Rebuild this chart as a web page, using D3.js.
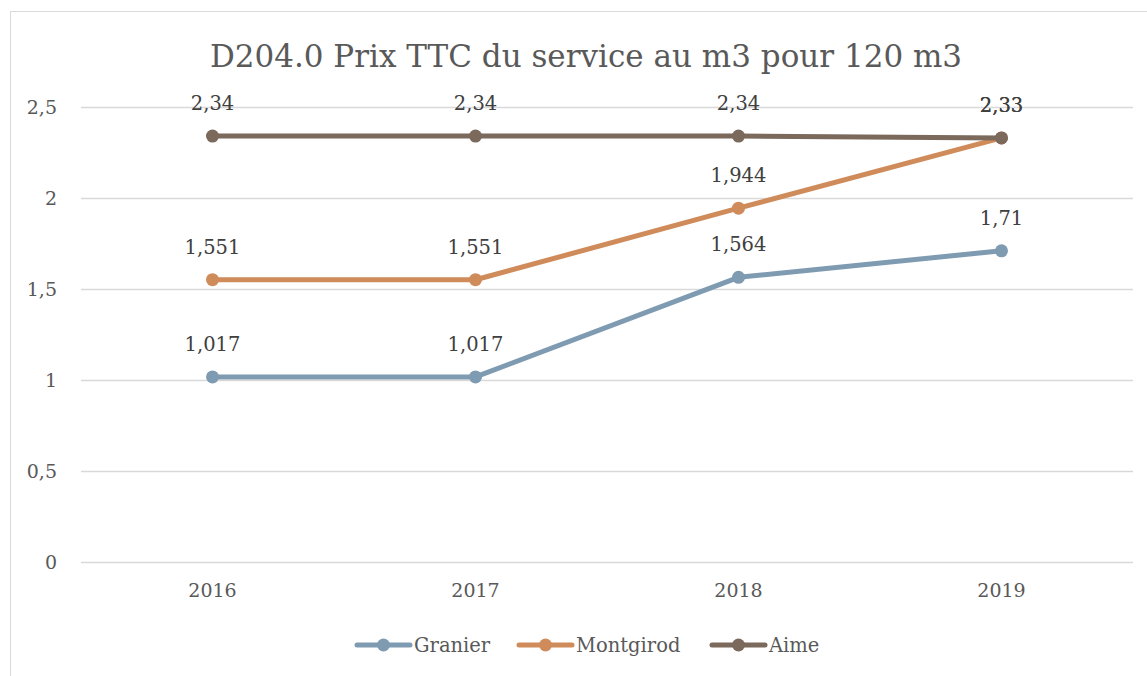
<!DOCTYPE html>
<html>
<head>
<meta charset="utf-8">
<script src="https://cdn.jsdelivr.net/npm/d3@7"></script>
<style>
  html, body { margin: 0; padding: 0; background: #fff; }
  svg { display: block; font-family: "DejaVu Serif", "Liberation Serif", serif; }
</style>
</head>
<body>
<svg id="chart" width="1147" height="676"></svg>
<script>
// D204.0 Prix TTC du service au m3 pour 120 m3
const years = ['2016', '2017', '2018', '2019'];
const granier = [1.017, 1.017, 1.564, 1.71];
const montgirod = [1.551, 1.551, 1.944, 2.33];
const aime = [2.34, 2.34, 2.34, 2.33];
const yTicks = [0, 0.5, 1, 1.5, 2, 2.5];

const series = [
    { name: 'Granier', values: granier, color: '#7f9bb2' },
    { name: 'Montgirod', values: montgirod, color: '#d08b5b' },
    { name: 'Aime', values: aime, color: '#7b695c' }
];

const SERIF = '"DejaVu Serif", "Liberation Serif", serif';
const svg = d3.select('#chart');
const MARGIN = { left: 81, right: 14, top: 107, bottom: 114 };
const W = 1147, H = 676;

const fmt = v => String(v).replace('.', ',');

// outer chart border
svg.append('rect')
    .attr('x', 10.5).attr('y', 11.5)
    .attr('width', 1140).attr('height', 680)
    .attr('fill', '#fff')
    .attr('stroke', '#d9d9d9');

const x = d3.scaleBand()
    .domain(years)
    .range([MARGIN.left, W - MARGIN.right]);

const y = d3.scaleLinear()
    .domain([0, 2.5])
    .range([H - MARGIN.bottom, MARGIN.top]);

const cx = d => x(d) + x.bandwidth() / 2;

// Grid
svg.append('g')
    .attr('transform', `translate(${MARGIN.left},0)`)
    .call(d3.axisLeft(y).tickValues(yTicks).tickSize(-(W - MARGIN.left - MARGIN.right)).tickFormat(''))
    .call(g => g.select('.domain').remove())
    .selectAll('line')
    .attr('stroke', '#d9d9d9')
    .attr('stroke-width', 1.3);

// Y axis labels
svg.append('g')
    .attr('transform', `translate(${MARGIN.left - 24},0)`)
    .call(d3.axisLeft(y).tickValues(yTicks).tickSize(0).tickPadding(0).tickFormat(fmt))
    .attr('font-family', SERIF)
    .attr('font-size', 19)
    .call(g => g.select('.domain').remove())
    .selectAll('text')
    .attr('fill', '#595959');

// X axis labels
svg.append('g')
    .attr('transform', `translate(0,${H - MARGIN.bottom})`)
    .call(d3.axisBottom(x).tickSize(0).tickPadding(22))
    .attr('font-family', SERIF)
    .attr('font-size', 19)
    .call(g => g.select('.domain').remove())
    .selectAll('text')
    .attr('fill', '#595959');

// Title
svg.append('text')
    .attr('x', 586)
    .attr('y', 67)
    .attr('text-anchor', 'middle')
    .style('font-size', '31px')
    .attr('fill', '#595959')
    .text('D204.0 Prix TTC du service au m3 pour 120 m3');

const line = d3.line()
    .x((d, i) => cx(years[i]))
    .y(d => y(d));

series.forEach(s => {
    svg.append('path')
        .datum(s.values)
        .attr('d', line)
        .attr('fill', 'none')
        .attr('stroke', s.color)
        .attr('stroke-width', 5)
        .attr('stroke-linecap', 'round')
        .attr('stroke-linejoin', 'round');

    svg.selectAll(null)
        .data(s.values)
        .join('circle')
        .attr('cx', (d, i) => cx(years[i]))
        .attr('cy', d => y(d))
        .attr('r', 6.5)
        .attr('fill', s.color);
});

// Data labels
series.forEach(s => {
    svg.selectAll(null)
        .data(s.values)
        .join('text')
        .attr('x', (d, i) => cx(years[i]))
        .attr('y', d => y(d) - 26)
        .attr('text-anchor', 'middle')
        .style('font-size', '19.5px')
        .attr('fill', '#404040')
        .text(d => fmt(d));
});

// Legend
const legendItems = [
    { x: 357, s: series[0] },
    { x: 519, s: series[1] },
    { x: 712, s: series[2] }
];
legendItems.forEach(({ x: lx, s }) => {
    const g = svg.append('g').attr('transform', `translate(${lx},645)`);
    g.append('line')
        .attr('x1', 0).attr('x2', 53)
        .attr('stroke', s.color)
        .attr('stroke-width', 5)
        .attr('stroke-linecap', 'round');
    g.append('circle').attr('cx', 26.5).attr('r', 6.5).attr('fill', s.color);
    g.append('text')
        .attr('x', 57)
        .attr('dy', '0.35em')
        .style('font-size', '19.5px')
        .attr('fill', '#595959')
        .text(s.name);
});
</script>
</body>
</html>
